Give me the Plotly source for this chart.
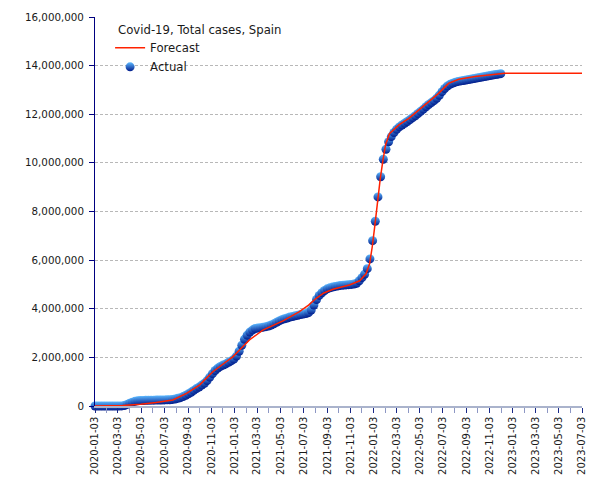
import pandas as pd
import plotly.graph_objects as go

# ---- data ----
actual_start = "2020-01-03"
actual_weeks = 153
actual_millions = [
    0, 0, 0, 0, 0, 0, 0, 0, 0.00003, 0.0004,
    0.005, 0.02, 0.066, 0.118, 0.158, 0.191, 0.213, 0.222, 0.228, 0.232,
    0.235, 0.239, 0.241, 0.243, 0.246, 0.248, 0.251, 0.254, 0.259, 0.272,
    0.289, 0.314, 0.343, 0.386, 0.439, 0.499, 0.566, 0.640, 0.716, 0.779,
    0.861, 0.937, 1.046, 1.186, 1.329, 1.459, 1.557, 1.628, 1.685, 1.731,
    1.797, 1.855, 1.928, 2.050, 2.252, 2.500, 2.743, 2.913, 3.041, 3.122,
    3.189, 3.205, 3.222, 3.242, 3.262, 3.290, 3.330, 3.380, 3.440, 3.500,
    3.550, 3.590, 3.620, 3.660, 3.680, 3.710, 3.730, 3.760, 3.780, 3.800,
    3.840, 3.950, 4.150, 4.380, 4.550, 4.660, 4.750, 4.820, 4.860, 4.890,
    4.920, 4.940, 4.960, 4.970, 4.980, 4.990, 5.000, 5.020, 5.050, 5.150,
    5.280, 5.420, 5.650, 6.050, 6.800, 7.600, 8.600, 9.430, 10.150, 10.560,
    10.870, 11.080, 11.250, 11.380, 11.480, 11.560, 11.630, 11.700, 11.780, 11.860,
    11.940, 12.030, 12.120, 12.210, 12.310, 12.400, 12.480, 12.560, 12.660, 12.780,
    12.930, 13.060, 13.160, 13.230, 13.280, 13.320, 13.350, 13.370, 13.390, 13.410,
    13.430, 13.450, 13.470, 13.490, 13.510, 13.530, 13.550, 13.570, 13.590, 13.610,
    13.630, 13.650, 13.670,
]

forecast_dates = [
    "2020-01-03", "2020-03-03", "2020-03-16", "2020-05-02", "2020-06-11",
    "2020-07-25", "2020-08-30", "2020-10-03", "2020-11-07", "2020-12-12",
    "2020-12-30", "2021-01-16", "2021-02-11", "2021-03-18", "2021-05-10",
    "2021-06-22", "2021-07-16", "2021-08-05", "2021-08-25", "2021-09-18",
    "2021-10-31", "2021-11-27", "2021-12-14", "2021-12-23", "2021-12-30",
    "2022-01-06", "2022-01-13", "2022-01-20", "2022-01-27", "2022-02-03",
    "2022-02-13", "2022-03-10", "2022-04-05", "2022-05-01", "2022-05-27",
    "2022-06-22", "2022-07-18", "2022-08-14", "2022-09-26", "2022-11-09",
    "2022-12-13", "2023-07-03",
]
forecast_millions = [
    0.0, 0.0, 0.02, 0.07, 0.14,
    0.25, 0.52, 0.86, 1.41, 1.82,
    2.03, 2.30, 2.72, 3.12, 3.50,
    3.88, 4.15, 4.43, 4.65, 4.80,
    4.98, 5.15, 5.45, 5.85, 6.55,
    7.45, 8.50, 9.35, 10.10, 10.75,
    11.20, 11.56, 11.83, 12.18, 12.52,
    12.86, 13.27, 13.44, 13.55, 13.62,
    13.69, 13.69,
]

y_ticks = [0, 2e6, 4e6, 6e6, 8e6, 10e6, 12e6, 14e6, 16e6]
x_first_tick = "2020-01-03"
x_last_tick = "2023-07-03"

chart_title = "Covid-19, Total cases, Spain"

# ---- figure ----
actual_dates = pd.date_range(actual_start, periods=actual_weeks, freq="7D")
actual_values = [v * 1e6 for v in actual_millions]
forecast_values = [v * 1e6 for v in forecast_millions]

NAVY = "#000080"
FONT = "DejaVu Sans"
TXT = "#1a1a1a"

fig = go.Figure()
fig.add_trace(go.Scatter(
    x=actual_dates, y=actual_values, name="Actual", mode="markers",
    cliponaxis=False, legendrank=2,
    marker=dict(size=9, color="#5cb8ff",
                gradient=dict(type="vertical", color="#001a8a"),
                line=dict(width=0)),
))
fig.add_trace(go.Scatter(
    x=forecast_dates, y=forecast_values, name="Forecast", mode="lines",
    cliponaxis=False, legendrank=1,
    line=dict(color="#ff2200", width=1.5),
))

fig.add_annotation(
    text=chart_title, xref="paper", yref="paper",
    x=0.0431, y=0.9666, xanchor="left", yanchor="middle", showarrow=False,
    font=dict(family=FONT, size=11.7, color=TXT),
)

fig.update_layout(
    width=589, height=472,
    margin=dict(l=87, r=15, t=9, b=74, autoexpand=False),
    paper_bgcolor="white", plot_bgcolor="white",
    font=dict(family=FONT, size=10.3, color=TXT),
    showlegend=True,
    legend=dict(
        font=dict(family=FONT, size=11.7, color=TXT),
        x=0.031, y=0.958, xanchor="left", yanchor="top",
        bgcolor="rgba(0,0,0,0)", itemwidth=30, tracegroupgap=0,
    ),
    xaxis=dict(
        type="date", range=[x_first_tick, x_last_tick], automargin=False,
        tick0=x_first_tick, dtick="M2", tickformat="%Y-%m-%d", tickangle=-90,
        ticks="outside", ticklen=5, tickcolor="#1a2a88", tickwidth=1,
        minor=dict(dtick="M1", tick0=x_first_tick, ticks="outside", ticklen=5,
                   tickcolor="#8d97c4", tickwidth=1, showgrid=False),
        showline=True, linecolor="#aab3cc", linewidth=1.5,
        showgrid=False, zeroline=False,
        tickfont=dict(family=FONT, size=10, color=TXT),
    ),
    yaxis=dict(
        range=[0, 16e6], tickvals=y_ticks, tickformat=",d", automargin=False,
        ticks="outside", ticklen=5, tickcolor=NAVY, ticklabelstandoff=3,
        showline=True, linecolor=NAVY, linewidth=1,
        showgrid=True, gridcolor="#b8b8b8", griddash="3px,2px", gridwidth=1,
        zeroline=False,
        tickfont=dict(family=FONT, size=10.3, color=TXT),
    ),
)

fig.write_html("out.html")
